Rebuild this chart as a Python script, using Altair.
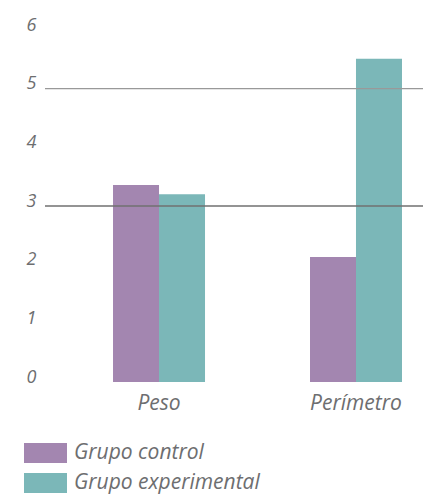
import altair as alt
import pandas as pd

categories = ["Peso", "Perímetro"]
groups = ["Grupo control", "Grupo experimental"]
control = [3.36, 2.13]
experimental = [3.20, 5.51]
colors = ["#a386b0", "#7bb7b8"]
y_ticks = [0, 1, 2, 3, 4, 5, 6]
grid_values = [3, 5]
grid_colors = ["#707070", "#999999"]

rows = []
for i, c in enumerate(categories):
    rows.append({"cat": c, "grupo": groups[0], "valor": control[i]})
    rows.append({"cat": c, "grupo": groups[1], "valor": experimental[i]})
df = pd.DataFrame(rows)
grid_df = pd.DataFrame({"y": grid_values, "c": grid_colors})

FONT = "Open Sans"
TXT = "#6d6e70"

bars = alt.Chart(df).mark_bar(size=46).encode(
    x=alt.X("cat:N", sort=categories, title=None,
            scale=alt.Scale(paddingInner=0.533, paddingOuter=0.226, align=0.764),
            axis=alt.Axis(labelAngle=0, domain=False, ticks=False, labelFont=FONT,
                          labelFontStyle="italic", labelFontSize=21, labelColor=TXT,
                          labelPadding=10)),
    xOffset=alt.XOffset("grupo:N", sort=groups,
                        scale=alt.Scale(paddingInner=0, paddingOuter=0)),
    y=alt.Y("valor:Q", title=None,
            scale=alt.Scale(domain=[0, 6], nice=False),
            axis=alt.Axis(values=y_ticks, format="d", grid=False, domain=False, ticks=False,
                          labelFont=FONT, labelFontStyle="italic", labelFontSize=18,
                          labelColor=TXT, labelBaseline="alphabetic", labelPadding=9)),
    color=alt.Color("grupo:N", sort=groups,
                    scale=alt.Scale(domain=groups, range=colors),
                    legend=alt.Legend(title=None, orient="none", legendX=-21, legendY=413,
                                      symbolType="M-1,-0.465H1V0.465H-1Z",
                                      symbolSize=1849, symbolStrokeWidth=0,
                                      clipHeight=20, rowPadding=9, labelOffset=7,
                                      labelFont=FONT, labelFontStyle="italic",
                                      labelFontSize=21, labelColor=TXT, padding=0,
                                      labelLimit=400, symbolOpacity=1)),
)

grid = alt.Chart(grid_df).mark_rule(strokeWidth=1.3).encode(
    y=alt.Y("y:Q"),
    color=alt.Color("c:N", scale=None),
)

chart = alt.layer(bars, grid).properties(
    width=378, height=352,
    padding={"left": 37, "top": 22, "right": 0, "bottom": 112},
    autosize=alt.AutoSizeParams(type="none"),
).configure_view(stroke=None)

chart.save("out.html", embed_options={"renderer": "svg", "actions": False})
